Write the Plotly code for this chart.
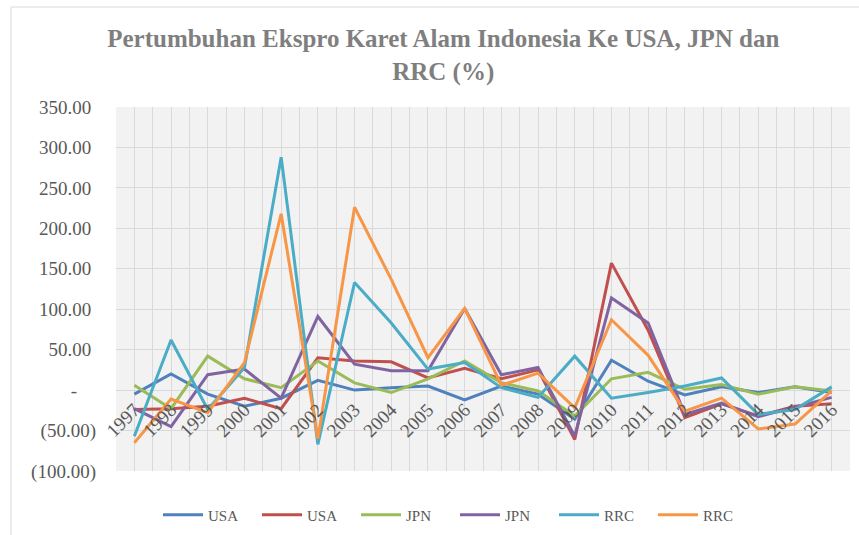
import plotly.graph_objects as go

years = list(range(1997, 2017))
usa_1 = [-5, 20, -5, -20, -10, 12, 0, 3, 5, -12, 5, -5, -36, 37, 11, -6, 4, -3, 4, -3]
usa_2 = [-24, -23, -20, -10, -23, 40, 36, 35, 15, 27, 14, 25, -61, 157, 74, -34, -17, -32, -20, -17]
jpn_1 = [6, -23, 42, 14, 3, 36, 9, -3, 14, 36, 9, -1, -32, 14, 22, 1, 7, -5, 4, -1]
jpn_2 = [-23, -45, 19, 26, -10, 91, 32, 24, 24, 101, 19, 28, -57, 114, 83, -30, -16, -33, -21, -9]
rrc_1 = [-57, 62, -24, 28, 288, -67, 133, 83, 26, 34, 3, -9, 42, -10, -3, 5, 15, -30, -24, 4]
rrc_2 = [-65, -11, -28, 34, 218, -60, 226, 137, 40, 101, 6, 21, -22, 87, 43, -26, -10, -48, -42, -1]

series_names = ["USA", "USA", "JPN", "JPN", "RRC", "RRC"]
series_values = [usa_1, usa_2, jpn_1, jpn_2, rrc_1, rrc_2]
colors = ["#4F81BD", "#C0504D", "#9BBB59", "#8064A2", "#4BACC6", "#F79646"]

y_tickvals = [-100, -50, 0, 50, 100, 150, 200, 250, 300, 350]
y_ticktext = ["(100.00)", "(50.00)", "-\u00a0\u00a0\u00a0\u00a0",
              "50.00\u00a0", "100.00\u00a0", "150.00\u00a0", "200.00\u00a0",
              "250.00\u00a0", "300.00\u00a0", "350.00\u00a0"]

W, H = 859, 535
L, R, T, B = 116, 9, 107, 64
PW, PH = W - L - R, H - T - B

fig = go.Figure()
for name, vals, c in zip(series_names, series_values, colors):
    fig.add_trace(go.Scatter(x=years, y=vals, name=name, mode="lines",
                             line=dict(color=c, width=3)))

y0, y1 = -100, 350
fig.update_layout(
    width=W, height=H,
    margin=dict(l=L, r=R, t=T, b=B, autoexpand=False),
    paper_bgcolor="white",
    plot_bgcolor="#F2F2F2",
    title=dict(
        text="Pertumbuhan Ekspro Karet Alam Indonesia Ke USA, JPN dan<br>RRC (%)",
        x=0.516, xanchor="center", xref="container",
        y=1 - 47 / H, yanchor="top", yref="container",
        font=dict(family="Liberation Serif", size=25, color="#7F7F7F", weight="bold"),
    ),
    xaxis=dict(
        range=[1996.5, 2016.5],
        tickvals=years, ticktext=[str(y) for y in years],
        tickangle=-45,
        showgrid=True, gridcolor="#D9D9D9", gridwidth=1,
        minor=dict(tickvals=[y + 0.5 for y in range(1996, 2017)], showgrid=True,
                   gridcolor="#D9D9D9", gridwidth=1),
        anchor="free", position=(0 - y0) / (y1 - y0),
        showline=False, zeroline=False, ticks="",
        ticklabelstandoff=4,
        tickfont=dict(family="Liberation Serif", size=19, color="#595959"),
    ),
    yaxis=dict(
        range=[y0, y1],
        tickvals=y_tickvals, ticktext=y_ticktext,
        showgrid=True, gridcolor="#D9D9D9", gridwidth=1,
        zeroline=False, showline=False, ticks="",
        ticklabelstandoff=19,
        tickfont=dict(family="Liberation Serif", size=19, color="#595959"),
    ),
    legend=dict(
        orientation="h", x=(158 - L) / PW, xanchor="left",
        y=-(515 - 471) / PH, yanchor="middle",
        font=dict(family="Liberation Serif", size=15, color="#595959"),
        itemwidth=40,
        entrywidth=44, entrywidthmode="pixels",
        bgcolor="rgba(0,0,0,0)",
    ),
    shapes=[
        dict(type="line", xref="paper", yref="paper",
             x0=(11 - L) / PW, x1=1.2,
             y0=1 + (T - 7) / PH, y1=1 + (T - 7) / PH,
             line=dict(color="#D9D9D9", width=1)),
        dict(type="line", xref="paper", yref="paper",
             x0=(11 - L) / PW, x1=(11 - L) / PW,
             y0=1 + (T - 7) / PH, y1=-0.5,
             line=dict(color="#D9D9D9", width=1)),
    ],
)

fig.write_html("out.html", config={"displayModeBar": False},
               post_script="document.body.style.margin='0';document.body.style.overflow='hidden';")
